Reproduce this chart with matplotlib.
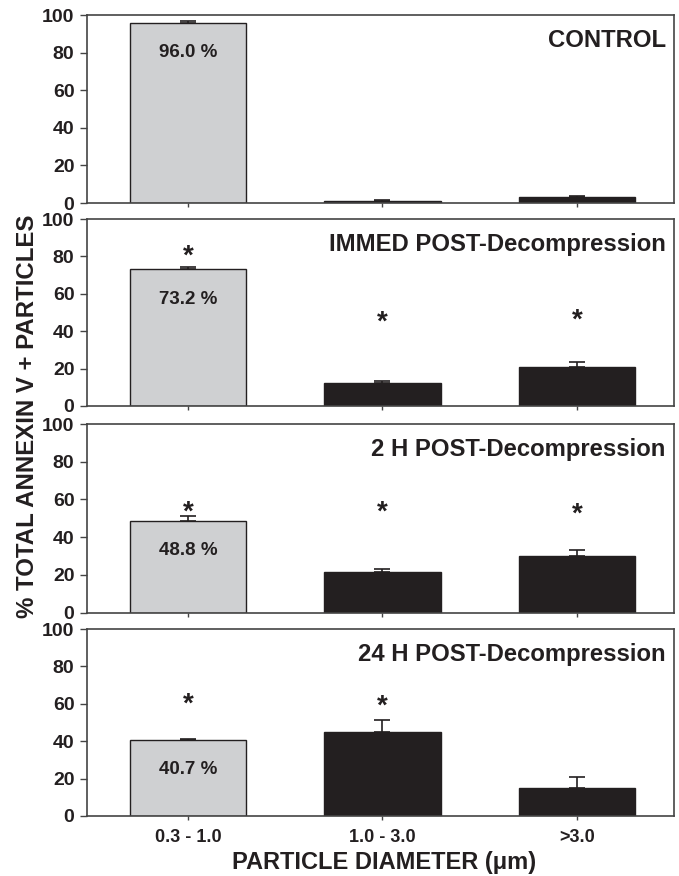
import numpy as np
import matplotlib
matplotlib.use("Agg")
import matplotlib.pyplot as plt

plt.rcParams['font.family'] = ['Liberation Sans', 'DejaVu Sans']
plt.rcParams['font.weight'] = 'bold'

# data
sizes = ["0.3 - 1.0", "1.0 - 3.0", ">3.0"]
panels = ["CONTROL", "IMMED POST-Decompression",
          "2 H POST-Decompression", "24 H POST-Decompression"]
control = [96.0, 1.0, 3.2]
immed = [73.2, 12.3, 21.0]
h2 = [48.8, 21.4, 29.8]
h24 = [40.7, 44.8, 14.8]
control_err = [0.6, 0.4, 0.4]
immed_err = [1.0, 1.0, 2.3]
h2_err = [2.4, 1.5, 3.2]
h24_err = [0.5, 6.8, 6.0]
pct_labels = ["96.0 %", "73.2 %", "48.8 %", "40.7 %"]
# asterisk heights (None = no asterisk)
control_star = [None, None, None]
immed_star = [80, 44.5, 45.5]
h2_star = [53, 53, 52]
h24_star = [59.5, 58.5, None]

values = [control, immed, h2, h24]
errors = [control_err, immed_err, h2_err, h24_err]
stars = [control_star, immed_star, h2_star, h24_star]

W, H = 679, 876
fig = plt.figure(figsize=(W / 100, H / 100), dpi=100)

# panel pixel extents (top, bottom)
extents = [(15, 203), (219, 406), (424, 612.5), (629, 816)]
left_px, right_px = 87, 674

gray = "#cfd0d2"
black = "#231f20"
frame = "#444444"
colors = [gray, black, black]
x = np.arange(3)

for i, (top, bot) in enumerate(extents):
    ax = fig.add_axes([left_px / W, 1 - bot / H, (right_px - left_px) / W, (bot - top) / H])
    ax.bar(x, values[i], width=0.6, color=colors, edgecolor=black, linewidth=1.0,
           yerr=[[0, 0, 0], errors[i]], capsize=6,
           error_kw=dict(ecolor=black, elinewidth=1.2, capthick=1.2), zorder=2)
    ax.set_xlim(-0.52, 2.5)
    ax.set_ylim(0, 100)
    ax.set_yticks([0, 20, 40, 60, 80, 100])
    ax.set_xticks(x)
    for s in ax.spines.values():
        s.set_color(frame)
        s.set_linewidth(1.2)
    ax.tick_params(axis='y', direction='out', length=5, width=1, colors=frame,
                   labelcolor="#231f20", labelsize=14, pad=4)
    ax.tick_params(axis='x', direction='out', length=3, width=1, colors=frame,
                   labelcolor="#231f20", labelsize=13, pad=6)
    if i < 3:
        ax.set_xticklabels([])
    else:
        ax.set_xticklabels(sizes, fontweight='bold')
    for lab in ax.get_yticklabels():
        lab.set_fontweight('bold')

    ax.text(0.986, 0.865, panels[i], transform=ax.transAxes, ha='right', va='center',
            fontsize=17.2, fontweight='bold', color="#231f20")
    ax.text(0, values[i][0] - 16, pct_labels[i], ha='center', va='center',
            fontsize=13.5, fontweight='bold', color="#231f20")
    for j, sy in enumerate(stars[i]):
        if sy is not None:
            ax.text(j, sy, "*", ha='center', va='center', fontsize=20,
                    fontweight='bold', color="#231f20")

fig.text(28 / W, 1 - 416 / H, "% TOTAL ANNEXIN V + PARTICLES", rotation=90,
         ha='center', va='center', fontsize=17.3, fontweight='bold', color="#231f20")
fig.text(384 / W, 1 - 862 / H, "PARTICLE DIAMETER (\u03bcm)",
         ha='center', va='center', fontsize=17, fontweight='bold', color="#231f20")

fig.savefig("out.png", dpi=100)
